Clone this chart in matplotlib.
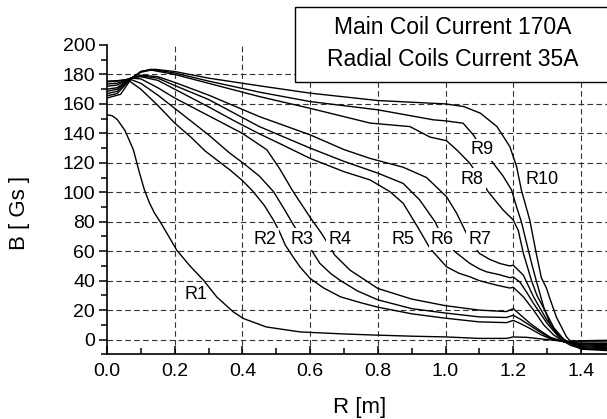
import matplotlib
matplotlib.use("Agg")
import matplotlib.pyplot as plt
from matplotlib.patches import Rectangle
from matplotlib.ticker import MultipleLocator

plt.rcParams['font.family'] = ['Liberation Sans', 'DejaVu Sans']

# ---------------- data ----------------
r1_x = [0, 0.015, 0.03, 0.053, 0.078, 0.095, 0.11, 0.125, 0.14, 0.157, 0.18, 0.206, 0.245, 0.285, 0.324,
        0.373, 0.403, 0.47, 0.57, 0.7, 0.8, 0.9, 1.0, 1.1, 1.18, 1.2, 1.24, 1.3, 1.35, 1.4, 1.48]
r1_y = [152.6, 152, 149.5, 142, 128.8, 114, 102, 93, 86, 80, 71, 60.7, 50, 40.3, 29,
        18.8, 14.3, 8.6, 5.2, 3.8, 3, 2.3, 1.8, 0.8, 0.8, 1.8, 1.5, 0, -1.2, -0.8, -0.5]

r2_x = [0, 0.03, 0.06, 0.1, 0.15, 0.2, 0.25, 0.29, 0.363, 0.4, 0.432, 0.465, 0.492, 0.51, 0.527, 0.55,
        0.57, 0.6, 0.64, 0.69, 0.75, 0.8, 0.9, 1.0, 1.1, 1.18, 1.2, 1.22, 1.25, 1.28, 1.31, 1.35, 1.4, 1.48]
r2_y = [175.5, 175.8, 176.5, 170, 159, 147, 137, 128, 115.2, 108, 100.4, 91, 81, 73, 64, 56,
        49.4, 41.5, 35, 29, 25, 22, 17.5, 14.5, 12, 11.5, 13, 11, 7.5, 3.5, 0.5, -1.5, -1.5, -1.6]

r3_x = [0, 0.03, 0.065, 0.1, 0.15, 0.2, 0.3, 0.363, 0.403, 0.45, 0.492, 0.525, 0.551, 0.576, 0.604,
        0.629, 0.66, 0.688, 0.74, 0.8, 0.9, 1.0, 1.1, 1.18, 1.2, 1.22, 1.25, 1.28, 1.31, 1.35, 1.4, 1.48]
r3_y = [175, 175.3, 177, 174, 166, 157, 139, 126.5, 119.7, 111, 100.4, 88, 77.8, 69, 60.7,
        51.7, 45, 40.3, 33, 27, 21, 18, 15.4, 15, 16.5, 14, 9.5, 5, 1, -1.5, -2.5, -2.7]

r4_x = [0, 0.03, 0.07, 0.1, 0.15, 0.2, 0.3, 0.4, 0.472, 0.51, 0.55, 0.6, 0.634, 0.653, 0.673, 0.718,
        0.8, 0.9, 1.0, 1.1, 1.18, 1.2, 1.22, 1.25, 1.28, 1.31, 1.35, 1.4, 1.48]
r4_y = [173.5, 174, 177.5, 177, 171, 164, 152, 140, 128.9, 116, 100.4, 83, 72, 65, 57.3, 47.1,
        34.7, 27.5, 23, 20, 19, 21, 17, 11, 6, 1.5, -1.5, -3, -3.5]

r5_x = [0, 0.03, 0.07, 0.1, 0.15, 0.2, 0.3, 0.38, 0.45, 0.52, 0.6, 0.7, 0.777, 0.836, 0.875, 0.905,
        0.92, 0.954, 1.003, 1.04, 1.072, 1.1, 1.15, 1.19, 1.2, 1.23, 1.26, 1.29, 1.32, 1.35, 1.4, 1.48]
r5_y = [172, 172.8, 177.5, 178.5, 176, 170, 158, 148, 139.7, 132, 123, 114, 108.4, 100.4, 92.5, 81.2,
        75.5, 62, 49.4, 45, 42.6, 40, 37, 35, 35.5, 29, 20, 10, 3, -1.5, -3.5, -4.2]

r6_x = [0, 0.03, 0.07, 0.1, 0.15, 0.2, 0.3, 0.45, 0.6, 0.7, 0.8, 0.875, 0.924, 0.969, 0.99, 1.028,
        1.072, 1.1, 1.121, 1.16, 1.19, 1.2, 1.22, 1.24, 1.26, 1.3, 1.33, 1.36, 1.4, 1.48]
r6_y = [170, 171, 177.5, 179, 177.5, 172.5, 163, 144.6, 130, 121, 113, 106, 94.7, 80, 70, 59.6,
        51.7, 48, 46, 44, 42, 42.5, 39, 32, 24.5, 11, 3, -2, -4.2, -5]

r7_x = [0, 0.03, 0.07, 0.1, 0.15, 0.2, 0.3, 0.45, 0.6, 0.7, 0.777, 0.875, 0.944, 1.003, 1.033, 1.062,
        1.08, 1.1, 1.13, 1.16, 1.19, 1.2, 1.23, 1.26, 1.3, 1.34, 1.37, 1.4, 1.48]
r7_y = [168.5, 170, 177.5, 179.5, 178.5, 174.6, 166, 151.4, 139, 129, 123, 117, 110, 97, 85.7, 72,
        65, 58.5, 54.5, 51.7, 50, 50.5, 43.7, 29, 13, 1.8, -3, -4.8, -5.6]

r8_x = [0, 0.03, 0.07, 0.1, 0.13, 0.2, 0.3, 0.45, 0.6, 0.777, 0.895, 0.954, 1.003, 1.033, 1.072, 1.1,
        1.126, 1.17, 1.2, 1.215, 1.23, 1.254, 1.27, 1.293, 1.32, 1.35, 1.38, 1.4, 1.48]
r8_y = [167, 168.5, 177.5, 181.5, 183, 180, 174, 165, 157, 147, 144.6, 137.5, 135, 128.8, 119.7, 110,
        100.4, 88, 81.2, 74, 58.5, 40, 30, 20, 8, 0, -4, -5.5, -6.3]

r9_x = [0, 0.03, 0.07, 0.1, 0.13, 0.2, 0.3, 0.45, 0.6, 0.8, 0.964, 1.0, 1.052, 1.082, 1.107, 1.141,
        1.17, 1.195, 1.21, 1.224, 1.24, 1.254, 1.268, 1.29, 1.31, 1.34, 1.37, 1.4, 1.48]
r9_y = [165.5, 167, 177, 182, 183.5, 181, 175.5, 168, 161.6, 156, 149.2, 148.5, 146.9, 139, 130, 119.7,
        111, 101.6, 90, 80, 65, 52, 40, 22, 10, 0, -4, -6, -6.9]

r10_x = [0, 0.04, 0.07, 0.1, 0.14, 0.2, 0.3, 0.45, 0.6, 0.8, 1.0, 1.054, 1.103, 1.152, 1.19, 1.21,
         1.224, 1.249, 1.268, 1.283, 1.298, 1.308, 1.328, 1.357, 1.38, 1.4, 1.48]
r10_y = [164, 166.5, 176.5, 182, 183.5, 182, 177.5, 172.3, 167.3, 162.3, 160, 158.2, 153.7, 144.6, 131, 117.4,
         101.6, 81, 58.5, 42, 35, 28, 15, 2, -4, -6.5, -7.5]

curve_names = ["R1", "R2", "R3", "R4", "R5", "R6", "R7", "R8", "R9", "R10"]
curve_x = [r1_x, r2_x, r3_x, r4_x, r5_x, r6_x, r7_x, r8_x, r9_x, r10_x]
curve_y = [r1_y, r2_y, r3_y, r4_y, r5_y, r6_y, r7_y, r8_y, r9_y, r10_y]

# label anchor positions (data coordinates)
label_x = [0.262, 0.467, 0.577, 0.688, 0.873, 0.991, 1.102, 1.079, 1.109, 1.284]
label_y = [30.8, 68.2, 68.2, 68.2, 68.2, 68.2, 68.2, 109.0, 128.8, 108.4]

title_lines = ["Main Coil Current 170A", "Radial Coils Current 35A"]
x_label = "R [m]"
y_label = "B [ Gs ]"

# ---------------- figure ----------------
W, H = 607, 419
fig = plt.figure(figsize=(W / 100, H / 100), dpi=100)
ax = fig.add_axes([107 / W, 1 - 354.3 / H, 1 - 107 / W, (354.3 - 45) / H])

for xs, ys in zip(curve_x, curve_y):
    ax.plot(xs, ys, color='black', lw=1.0, zorder=3, solid_joinstyle='round')

for name, lx, ly in zip(curve_names, label_x, label_y):
    if name == "R1":
        ax.text(lx, ly, name, fontsize=13, ha='center', va='center', zorder=5)
    else:
        ax.text(lx, ly, name, fontsize=13, ha='center', va='center', zorder=5,
                bbox=dict(boxstyle='square,pad=0.12', fc='white', ec='none'))

ax.set_xlim(0, 1.477)
ax.set_ylim(-10, 200)
ax.xaxis.set_major_locator(MultipleLocator(0.2))
ax.xaxis.set_minor_locator(MultipleLocator(0.1))
ax.yaxis.set_major_locator(MultipleLocator(20))
ax.yaxis.set_minor_locator(MultipleLocator(10))
ax.set_xticks([0.0, 0.2, 0.4, 0.6, 0.8, 1.0, 1.2, 1.4])
ax.set_xticklabels(["0.0", "0.2", "0.4", "0.6", "0.8", "1.0", "1.2", "1.4"])

ax.tick_params(axis='x', which='major', direction='in', length=6, width=1.1, labelsize=14, pad=6)
ax.tick_params(axis='x', which='minor', direction='in', length=4, width=1.1)
ax.tick_params(axis='y', which='major', direction='out', length=6, width=1.1, labelsize=14, pad=2.5)
ax.tick_params(axis='y', which='minor', direction='out', length=4, width=1.1)

for s in ['top', 'right']:
    ax.spines[s].set_visible(False)
for s in ['left', 'bottom']:
    ax.spines[s].set_linewidth(1.2)

ax.grid(True, which='major', color='#333333', linestyle=(0, (5, 3)), linewidth=0.8)
ax.set_axisbelow(True)
# hide gridlines coinciding with spines / top edge
for gl, v in zip(ax.get_ygridlines(), ax.get_yticks()):
    if v >= 200 or v < 0:
        gl.set_visible(False)
for gl, v in zip(ax.get_xgridlines(), ax.get_xticks()):
    if v <= 0:
        gl.set_visible(False)

fig.text(360 / W, 1 - 407 / H, x_label, fontsize=16, ha='center', va='center')
fig.text(20 / W, 1 - 213 / H, y_label, fontsize=16, ha='center', va='center', rotation=90)

# title box
rect = Rectangle((295 / W, 1 - 81.7 / H), 1.0, (81.7 - 6.7) / H, transform=fig.transFigure,
                 facecolor='white', edgecolor='black', linewidth=1.0, zorder=10)
fig.add_artist(rect)
fig.text(453 / W, 1 - 27 / H, title_lines[0], fontsize=16.5, ha='center', va='center', zorder=11)
fig.text(453 / W, 1 - 59 / H, title_lines[1], fontsize=16.5, ha='center', va='center', zorder=11)

fig.savefig("out.png", dpi=100)
